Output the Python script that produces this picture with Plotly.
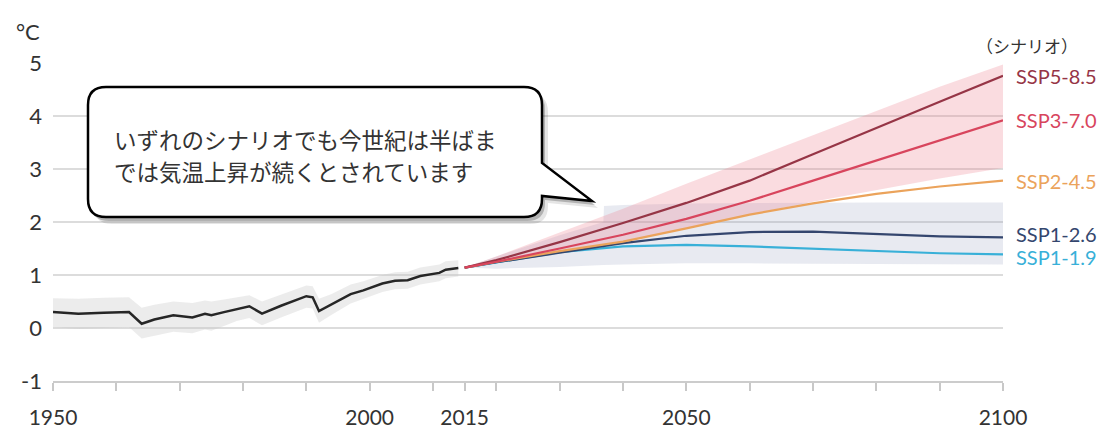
import plotly.graph_objects as go

# ---------------- data ----------------
hist_years = [1950, 1954, 1958, 1962, 1964, 1966, 1969, 1972, 1974, 1975, 1977, 1979, 1981, 1983,
              1986, 1990, 1991, 1992, 1994, 1997, 1999, 2002, 2004, 2006, 2008, 2011, 2012, 2014]
hist_vals = [0.30, 0.27, 0.29, 0.30, 0.08, 0.16, 0.24, 0.20, 0.27, 0.24, 0.30, 0.36, 0.41, 0.27,
             0.42, 0.60, 0.58, 0.32, 0.45, 0.64, 0.71, 0.84, 0.89, 0.90, 0.98, 1.04, 1.10, 1.13]
hist_upper = [0.56, 0.55, 0.57, 0.58, 0.38, 0.44, 0.50, 0.47, 0.52, 0.50, 0.54, 0.58, 0.62, 0.50,
              0.63, 0.80, 0.79, 0.55, 0.64, 0.82, 0.88, 1.00, 1.05, 1.06, 1.14, 1.20, 1.26, 1.28]
hist_lower = [0.02, -0.02, 0.00, 0.02, -0.20, -0.14, -0.07, -0.10, -0.03, -0.05, 0.04, 0.13, 0.19, 0.05,
              0.20, 0.38, 0.37, 0.10, 0.25, 0.46, 0.54, 0.68, 0.73, 0.74, 0.82, 0.88, 0.94, 0.97]

scen_years = [2015, 2020, 2030, 2040, 2050, 2060, 2070, 2080, 2090, 2100]
ssp585 = [1.14, 1.28, 1.62, 1.98, 2.36, 2.78, 3.28, 3.78, 4.27, 4.76]
ssp370 = [1.14, 1.25, 1.50, 1.76, 2.06, 2.40, 2.78, 3.16, 3.55, 3.92]
ssp245 = [1.14, 1.25, 1.45, 1.63, 1.88, 2.14, 2.35, 2.53, 2.67, 2.78]
ssp126 = [1.14, 1.24, 1.42, 1.60, 1.74, 1.81, 1.82, 1.78, 1.73, 1.71]
ssp119 = [1.14, 1.24, 1.43, 1.54, 1.57, 1.54, 1.50, 1.45, 1.41, 1.39]

red_band_upper = [1.14, 1.35, 1.80, 2.25, 2.72, 3.18, 3.64, 4.10, 4.55, 4.97]
red_band_lower = [1.14, 1.22, 1.42, 1.62, 1.88, 2.14, 2.38, 2.60, 2.82, 3.02]

blue_band_years = [2015, 2020, 2030, 2036.9, 2037, 2040, 2050, 2060, 2070, 2080, 2090, 2100]
blue_band_upper = [1.14, 1.35, 1.75, 2.00, 2.30, 2.32, 2.35, 2.36, 2.37, 2.37, 2.37, 2.37]
blue_band_lower = [1.14, 1.12, 1.15, 1.19, 1.19, 1.20, 1.22, 1.22, 1.21, 1.20, 1.20, 1.20]

scen_names = ["SSP1-1.9", "SSP1-2.6", "SSP2-4.5", "SSP5-8.5", "SSP3-7.0"]
scen_series = [ssp119, ssp126, ssp245, ssp585, ssp370]
scen_colors = ["#38b0d8", "#34466e", "#eba35b", "#963546", "#d8455d"]
label_shift = [-3, 3, 0, 0, 0]

x_tickvals = [1950, 1960, 1970, 1980, 1990, 2000, 2010, 2015, 2020, 2030, 2040, 2050,
              2060, 2070, 2080, 2090, 2100]
x_ticktext = ["1950", "", "", "", "", "2000", "", "2015", "", "", "", "2050",
              "", "", "", "", "2100"]
y_tickvals = [-1, 0, 1, 2, 3, 4, 5]
y_ticktext = ["-1", "0", "1", "2", "3", "4", "5"]

callout_lines = ["いずれのシナリオでも今世紀は半ばま", "では気温上昇が続くとされています"]

# ---------------- layout geometry ----------------
W, H = 1115, 432
L, R, T, B = 53, 112, 63, 51
PW, PH = W - L - R, H - T - B


def px(x):
    return (x - L) / PW


def py(y):
    return (H - B - y) / PH


fig = go.Figure()

# historical band
fig.add_trace(go.Scatter(x=hist_years + hist_years[::-1], y=hist_upper + hist_lower[::-1],
                         fill="toself", fillcolor="rgba(200,200,200,0.35)",
                         line=dict(width=0), hoverinfo="skip", showlegend=False))
# blue-grey band
fig.add_trace(go.Scatter(x=blue_band_years + blue_band_years[::-1],
                         y=blue_band_upper + blue_band_lower[::-1],
                         fill="toself", fillcolor="rgba(150,160,190,0.22)",
                         line=dict(width=0), hoverinfo="skip", showlegend=False))
# red band
fig.add_trace(go.Scatter(x=scen_years + scen_years[::-1], y=red_band_upper + red_band_lower[::-1],
                         fill="toself", fillcolor="rgba(238,125,140,0.27)",
                         line=dict(width=0), hoverinfo="skip", showlegend=False))

# historical line
fig.add_trace(go.Scatter(x=hist_years, y=hist_vals, mode="lines",
                         line=dict(color="#262626", width=2.5), showlegend=False))

for name, ser, col, sh in zip(scen_names, scen_series, scen_colors, label_shift):
    fig.add_trace(go.Scatter(x=scen_years, y=ser, mode="lines",
                             line=dict(color=col, width=2.2), name=name, showlegend=False))
    fig.add_annotation(x=scen_years[-1], y=ser[-1], text=name, showarrow=False,
                       xanchor="left", yanchor="middle", xshift=11, yshift=sh,
                       font=dict(family="Lato", size=20, color=col))

# callout shapes (pixel geometry converted to paper)
bx0, bx1, by0, by1, r = 88, 542, 87, 217, 18
tail = [(542, 163), (592, 201), (542, 196)]


def callout_path(dx=0, dy=0):
    def P(x, y):
        return f"{px(x + dx):.5f},{py(y + dy):.5f}"
    s = f"M {P(bx0 + r, by0)} L {P(bx1 - r, by0)} Q {P(bx1, by0)} {P(bx1, by0 + r)} "
    s += f"L {P(*tail[0])} L {P(*tail[1])} L {P(*tail[2])} "
    s += f"L {P(bx1, by1 - r)} Q {P(bx1, by1)} {P(bx1 - r, by1)} "
    s += f"L {P(bx0 + r, by1)} Q {P(bx0, by1)} {P(bx0, by1 - r)} "
    s += f"L {P(bx0, by0 + r)} Q {P(bx0, by0)} {P(bx0 + r, by0)} Z"
    return s


fig.add_shape(type="path", path=callout_path(6, 7), xref="paper", yref="paper",
              fillcolor="rgba(0,0,0,0.10)", line=dict(width=0), layer="above")
fig.add_shape(type="path", path=callout_path(3, 4), xref="paper", yref="paper",
              fillcolor="rgba(0,0,0,0.22)", line=dict(width=0), layer="above")
fig.add_shape(type="path", path=callout_path(), xref="paper", yref="paper",
              fillcolor="white", line=dict(color="black", width=2.5), layer="above")

for i, txt in enumerate(callout_lines):
    fig.add_annotation(x=px(113), y=py(139 + 32 * i), xref="paper", yref="paper",
                       text=txt, showarrow=False, xanchor="left", yanchor="middle",
                       borderpad=0,
                       font=dict(family="Noto Sans CJK JP", size=22.5, color="#333333"))

fig.add_annotation(x=px(28), y=py(31), xref="paper", yref="paper", text="°C",
                   showarrow=False, xanchor="center", yanchor="middle",
                   font=dict(family="Lato", size=22, color="#333333"))
fig.add_annotation(x=px(1027), y=py(45), xref="paper", yref="paper", text="（シナリオ）",
                   showarrow=False, xanchor="center", yanchor="middle",
                   font=dict(family="Noto Sans CJK JP", size=17, color="#333333"))

fig.update_layout(
    width=W, height=H,
    margin=dict(l=L, r=R, t=T, b=B, pad=0, autoexpand=False),
    paper_bgcolor="white", plot_bgcolor="white",
    xaxis=dict(range=[1950, 2100], tickvals=x_tickvals, ticktext=x_ticktext, automargin=False,
               showgrid=False, zeroline=False, showline=True, linecolor="#cccccc", linewidth=2,
               ticks="outside", ticklen=8, tickwidth=1.5, tickcolor="#c8c8c8",
               tickfont=dict(family="Lato", size=21, color="#333333"), ticklabelstandoff=9),
    yaxis=dict(range=[-1, 5], tickvals=y_tickvals, ticktext=y_ticktext, automargin=False,
               showgrid=True, gridcolor="#dcdcdc", gridwidth=2, zeroline=False,
               showline=False, ticks="", ticklabelstandoff=10,
               tickfont=dict(family="Lato", size=22, color="#333333")),
)

fig.write_html("out.html")
